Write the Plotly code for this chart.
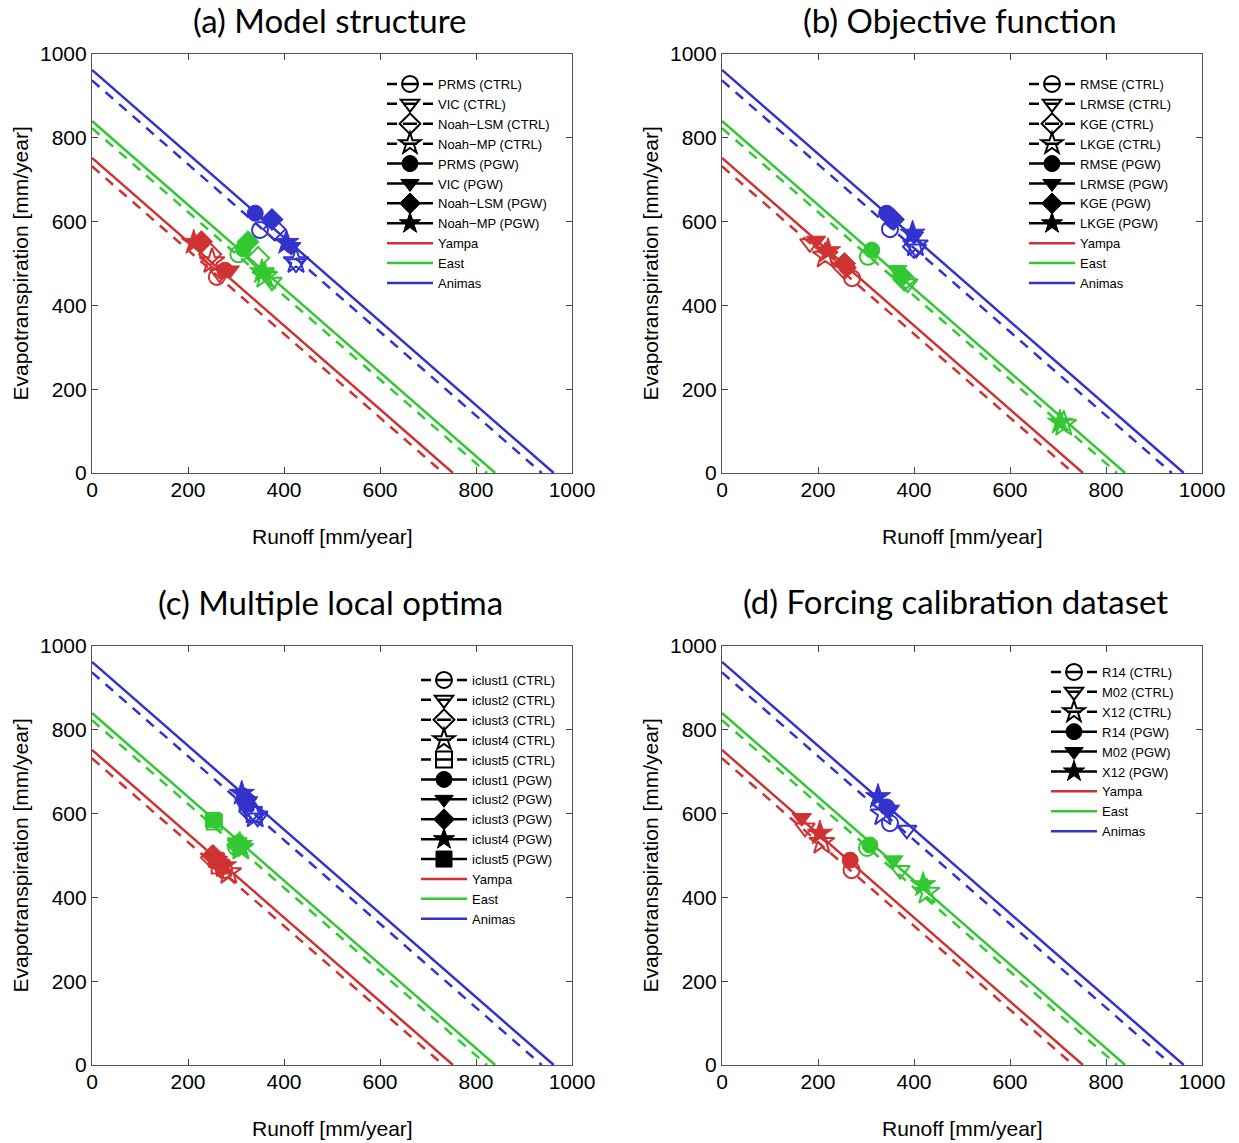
import plotly.graph_objects as go

W, H = 1239, 1143

basins = ["Yampa", "East", "Animas"]
basin_colors = ["rgb(208,50,50)", "rgb(50,200,50)", "rgb(50,50,205)"]
precip_ctrl = [732, 823, 937]
precip_pgw = [752, 840, 962]

# ---- (a) Model structure ----
a_names = ["PRMS", "VIC", "Noah\u2212LSM", "Noah\u2212MP"]
a_symbols = ["circle", "triangle-down", "diamond", "star"]
a_q_ctrl = [[260, 266, 246, 250], [305, 375, 346, 360], [350, 425, 380, 425]]
a_et_ctrl = [[468, 476, 522, 505], [522, 456, 513, 470], [580, 500, 582, 505]]
a_q_pgw = [[277, 287, 228, 212], [315, 360, 325, 354], [340, 415, 375, 405]]
a_et_pgw = [[484, 484, 552, 550], [535, 475, 552, 480], [620, 540, 605, 550]]

# ---- (b) Objective function ----
b_names = ["RMSE", "LRMSE", "KGE", "LKGE"]
b_symbols = ["circle", "triangle-down", "diamond", "star"]
b_q_ctrl = [[271, 183, 255, 215], [304, 387, 380, 712], [350, 405, 400, 403]]
b_et_ctrl = [[465, 548, 490, 518], [516, 452, 462, 117], [582, 535, 540, 545]]
b_q_pgw = [[260, 196, 255, 221], [312, 365, 375, 704], [343, 400, 357, 397]]
b_et_pgw = [[492, 555, 500, 530], [532, 485, 470, 121], [620, 565, 605, 572]]

# ---- (c) Multiple local optima ----
c_names = ["iclust1", "iclust2", "iclust3", "iclust4", "iclust5"]
c_symbols = ["circle", "triangle-down", "diamond", "star", "square"]
c_q_ctrl = [[275, 268, 250, 285, 265], [300, 308, 305, 310, 255], [335, 345, 330, 340, 338]]
c_et_ctrl = [[465, 470, 495, 460, 475], [520, 522, 525, 518, 580], [600, 590, 605, 595, 598]]
c_q_pgw = [[262, 262, 252, 275, 258], [305, 303, 307, 308, 252], [318, 325, 320, 312, 322]]
c_et_pgw = [[485, 488, 500, 475, 490], [530, 532, 528, 526, 585], [630, 630, 635, 648, 625]]

# ---- (d) Forcing calibration dataset ----
d_names = ["R14", "M02", "X12"]
d_symbols = ["circle", "triangle-down", "star"]
d_q_ctrl = [[270, 173, 208], [302, 371, 427], [350, 385, 335]]
d_et_ctrl = [[465, 566, 532], [518, 465, 413], [577, 561, 600]]
d_q_pgw = [[267, 166, 204], [308, 357, 419], [343, 350, 325]]
d_et_pgw = [[489, 590, 553], [525, 489, 430], [616, 610, 640]]

panel_titles = ["(a) Model structure", "(b) Objective function",
                "(c) Multiple local optima", "(d) Forcing calibration dataset"]
x_title = "Runoff [mm/year]"
y_title = "Evapotranspiration [mm/year]"
ticks = [0, 200, 400, 600, 800, 1000]

panels = [
    (a_names, a_symbols, a_q_ctrl, a_et_ctrl, a_q_pgw, a_et_pgw),
    (b_names, b_symbols, b_q_ctrl, b_et_ctrl, b_q_pgw, b_et_pgw),
    (c_names, c_symbols, c_q_ctrl, c_et_ctrl, c_q_pgw, c_et_pgw),
    (d_names, d_symbols, d_q_ctrl, d_et_ctrl, d_q_pgw, d_et_pgw),
]

# layout geometry (pixels)
x_doms_px = [(92, 572), (722, 1202), (92, 572), (722, 1202)]
y_doms_px = [(54, 473), (54, 473), (646, 1065), (646, 1065)]
legend_pos_px = [(382, 69), (1024, 69), (416, 665), (1046, 657)]
title_pos_px = [(330, 20), (960, 20), (330, 602), (956, 601)]

symbol_size = {"circle": 16, "triangle-down": 17, "diamond": 17, "star": 19, "square": 15}

fig = go.Figure()
LW = 2.5

for p, (names, syms, qc, ec, qp, ep) in enumerate(panels):
    ax = "" if p == 0 else str(p + 1)
    xa, ya = "x" + ax, "y" + ax
    leg = "legend" if p == 0 else "legend" + str(p + 1)
    # water balance lines
    for b in range(3):
        fig.add_trace(go.Scatter(
            x=[0, precip_ctrl[b]], y=[precip_ctrl[b], 0], mode="lines",
            line=dict(color=basin_colors[b], width=LW, dash="10px,8px"),
            showlegend=False, xaxis=xa, yaxis=ya, hoverinfo="skip"))
        fig.add_trace(go.Scatter(
            x=[0, precip_pgw[b]], y=[precip_pgw[b], 0], mode="lines",
            line=dict(color=basin_colors[b], width=LW),
            name=basins[b], legend=leg, legendrank=100 + b,
            showlegend=True, xaxis=xa, yaxis=ya))
    # data markers
    for b in range(3):
        for m in range(len(names)):
            fig.add_trace(go.Scatter(
                x=[qc[b][m]], y=[ec[b][m]], mode="markers",
                marker=dict(symbol=syms[m] + "-open", size=symbol_size[syms[m]],
                            color=basin_colors[b],
                            line=dict(width=2, color=basin_colors[b])),
                showlegend=False, xaxis=xa, yaxis=ya))
        for m in range(len(names)):
            fig.add_trace(go.Scatter(
                x=[qp[b][m]], y=[ep[b][m]], mode="markers",
                marker=dict(symbol=syms[m], size=symbol_size[syms[m]],
                            color=basin_colors[b],
                            line=dict(width=1, color=basin_colors[b])),
                showlegend=False, xaxis=xa, yaxis=ya))
    # legend-only marker entries
    for m in range(len(names)):
        fig.add_trace(go.Scatter(
            x=[None], y=[None], mode="lines+markers",
            line=dict(color="black", width=LW, dash="10px,6px,14px,6px,10px,40px"),
            marker=dict(symbol=syms[m] + "-open", size=16, color="black",
                        line=dict(width=2, color="black")),
            name=names[m] + " (CTRL)", legend=leg, legendrank=m + 1,
            xaxis=xa, yaxis=ya))
    for m in range(len(names)):
        fig.add_trace(go.Scatter(
            x=[None], y=[None], mode="lines+markers",
            line=dict(color="black", width=LW),
            marker=dict(symbol=syms[m], size=16, color="black",
                        line=dict(width=1, color="black")),
            name=names[m] + " (PGW)", legend=leg, legendrank=20 + m,
            xaxis=xa, yaxis=ya))

layout = dict(
    width=W, height=H, margin=dict(l=0, r=0, t=0, b=0, autoexpand=False),
    paper_bgcolor="white", plot_bgcolor="white",
    font=dict(family="Liberation Sans, Arial, sans-serif", color="black"),
)

axis_common = dict(
    range=[0, 1000], tickvals=ticks, ticks="inside", ticklen=6, tickwidth=1,
    tickcolor="#444", showline=True, linecolor="#555", linewidth=1.2,
    mirror="ticks", showgrid=False, zeroline=False, automargin=False,
    tickfont=dict(size=21, family="Liberation Sans, Arial, sans-serif", color="black"),
)

annotations = []
for p in range(4):
    ax = "" if p == 0 else str(p + 1)
    x0, x1 = x_doms_px[p]
    y0, y1 = y_doms_px[p]
    layout["xaxis" + ax] = dict(axis_common, domain=[x0 / W, x1 / W],
                                anchor="y" + ax, ticklabelstandoff=-2)
    layout["yaxis" + ax] = dict(axis_common, domain=[1 - y1 / H, 1 - y0 / H],
                                anchor="x" + ax)
    lx, ly = legend_pos_px[p]
    leg = "legend" if p == 0 else "legend" + str(p + 1)
    layout[leg] = dict(x=lx / W, y=1 - ly / H, xanchor="left", yanchor="top",
                       bgcolor="rgba(0,0,0,0)", borderwidth=0,
                       font=dict(size=13, family="Liberation Sans, Arial, sans-serif"),
                       traceorder="normal", itemwidth=46)
    tx, ty = title_pos_px[p]
    annotations.append(dict(text=panel_titles[p], x=tx / W, y=1 - ty / H,
                            xref="paper", yref="paper", showarrow=False,
                            xanchor="center", yanchor="middle",
                            font=dict(size=33, family="Lato, Noto Sans, sans-serif")))
    annotations.append(dict(text=x_title, x=(x0 + x1) / 2 / W, y=1 - (y1 + 63) / H,
                            xref="paper", yref="paper", showarrow=False,
                            xanchor="center", yanchor="middle",
                            font=dict(size=21)))
    annotations.append(dict(text=y_title, x=(x0 - 72) / W, y=1 - (y0 + y1) / 2 / H,
                            xref="paper", yref="paper", showarrow=False,
                            xanchor="center", yanchor="middle", textangle=-90,
                            font=dict(size=21)))

layout["annotations"] = annotations
fig.update_layout(**layout)
fig.write_html(
    "out.html",
    post_script="document.body.style.margin='0';document.body.style.overflow='hidden';",
)
